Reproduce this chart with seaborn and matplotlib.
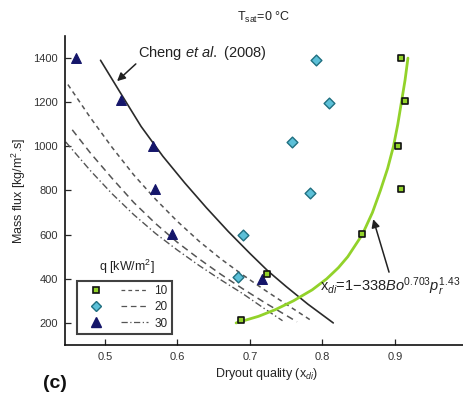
import matplotlib
matplotlib.use("Agg")
import matplotlib.pyplot as plt
import numpy as np
import pandas as pd
import seaborn as sns
from matplotlib.lines import Line2D
from matplotlib.legend_handler import HandlerTuple

# Measured dryout points, grouped by heat flux q [kW/m2]
q10_x = [0.909, 0.914, 0.904, 0.909, 0.854, 0.724, 0.688]
q10_G = [1400, 1205, 1000, 805, 605, 420, 215]
q20_x = [0.791, 0.809, 0.758, 0.783, 0.690, 0.684]
q20_G = [1390, 1195, 1020, 790, 600, 410]
q30_x = [0.460, 0.522, 0.567, 0.569, 0.592, 0.717]
q30_G = [1400, 1210, 1000, 805, 605, 400]

# Cheng et al. (2008) dryout line
cheng_x = [0.494, 0.52, 0.55, 0.58, 0.61, 0.64, 0.67, 0.70, 0.725, 0.75, 0.78, 0.815]
cheng_G = [1390, 1250, 1090, 955, 835, 722, 615, 515, 435, 365, 285, 200]

# Predicted curves for each heat flux
pred10_x = [0.449, 0.48, 0.51, 0.54, 0.57, 0.60, 0.63, 0.66, 0.69, 0.72, 0.75, 0.785]
pred10_G = [1280, 1130, 995, 870, 760, 660, 570, 490, 418, 350, 285, 210]
pred20_x = [0.455, 0.48, 0.51, 0.54, 0.57, 0.60, 0.63, 0.66, 0.69, 0.72, 0.765]
pred20_G = [1075, 970, 855, 745, 650, 565, 490, 420, 355, 293, 205]
pred30_x = [0.446, 0.48, 0.51, 0.54, 0.57, 0.60, 0.63, 0.66, 0.69, 0.72, 0.745]
pred30_G = [1020, 890, 785, 690, 605, 530, 460, 395, 333, 265, 210]

# New correlation x_di = 1 - 338 Bo^0.703 p_r^1.43
corr_G = [200, 230, 260, 300, 350, 400, 450, 500, 600, 700, 800, 900, 1000,
          1100, 1200, 1300, 1400]
corr_x = [0.681, 0.712, 0.735, 0.760, 0.786, 0.806, 0.822, 0.835, 0.855,
          0.869, 0.880, 0.890, 0.898, 0.904, 0.909, 0.914, 0.918]

x_ticks = [0.5, 0.6, 0.7, 0.8, 0.9]
y_ticks = [200, 400, 600, 800, 1000, 1200, 1400]
legend_labels = ["10", "20", "30"]

sns.set_style("ticks")
plt.rcParams["font.family"] = ["Liberation Sans", "DejaVu Sans"]
plt.rcParams["mathtext.fontset"] = "custom"
plt.rcParams["mathtext.rm"] = "Liberation Sans"
plt.rcParams["mathtext.it"] = "Liberation Sans:italic"
plt.rcParams["mathtext.bf"] = "Liberation Sans:bold"

W, H = 463, 398
fig = plt.figure(figsize=(W / 100, H / 100), dpi=100)
ax = fig.add_axes([65 / W, 1 - 345 / H, (467.4 - 65) / W, (345 - 36) / H])

green = "#92d22a"
cyan = "#5cc0d8"
navy = "#15166a"
grey = "#555555"

dash10 = (0, (3, 2.5))
dash20 = (0, (4.5, 3))
dash30 = (0, (5, 2, 1, 2))

sns.lineplot(x=pred10_x, y=pred10_G, sort=False, estimator=None, ax=ax,
             color=grey, lw=1.1, linestyle=dash10)
sns.lineplot(x=pred20_x, y=pred20_G, sort=False, estimator=None, ax=ax,
             color=grey, lw=1.1, linestyle=dash20)
sns.lineplot(x=pred30_x, y=pred30_G, sort=False, estimator=None, ax=ax,
             color=grey, lw=1.0, linestyle=dash30)
sns.lineplot(x=cheng_x, y=cheng_G, sort=False, estimator=None, ax=ax,
             color="#2a2a2a", lw=1.2)
sns.lineplot(x=corr_x, y=corr_G, sort=False, estimator=None, ax=ax,
             color=green, lw=2.0)

sns.scatterplot(x=q20_x, y=q20_G, ax=ax, marker="D", s=30, color=cyan,
                edgecolor="#1f6f80", linewidth=1.0, zorder=5)
sns.scatterplot(x=q30_x, y=q30_G, ax=ax, marker="^", s=50, color=navy,
                edgecolor=navy, linewidth=0.8, zorder=5)
sns.scatterplot(x=q10_x, y=q10_G, ax=ax, marker="s", s=24, color=green,
                edgecolor="#111111", linewidth=1.2, zorder=6)

ax.set_xlim(0.445, 1.0)
ax.set_ylim(100, 1500)
ax.set_xticks(x_ticks)
ax.set_xticklabels([f"{v:g}" for v in x_ticks])
ax.set_yticks(y_ticks)
ax.set_yticklabels([str(v) for v in y_ticks])
sns.despine(ax=ax)
for s in ("left", "bottom"):
    ax.spines[s].set_linewidth(1.2)
    ax.spines[s].set_color("#111111")
ax.tick_params(direction="in", length=4, width=0.9, labelsize=8,
               labelcolor="#333333", pad=5)

ax.set_xlabel(r"Dryout quality (x$_{di}$)", fontsize=9, labelpad=3)
ax.set_ylabel(r"Mass flux [kg/m$^2$.s]", fontsize=9, labelpad=4)

# Annotations
ax.text(0.5455, 1425, r"Cheng $\mathit{et\ al.}$ (2008)", fontsize=10.5,
        ha="left", va="center", color="#222222")
ax.annotate("", xy=(0.514, 1287), xytext=(0.5455, 1382),
            arrowprops=dict(arrowstyle="-|>", color="#222222", lw=1.1,
                            mutation_scale=12))
ax.text(0.797, 364, r"x$_{di}$=1$-$338$Bo^{0.703}p_r^{1.43}$", fontsize=10.5,
        ha="left", va="center", color="#222222")
ax.annotate("", xy=(0.869, 682), xytext=(0.893, 418),
            arrowprops=dict(arrowstyle="-|>", color="#222222", lw=1.1,
                            mutation_scale=12))

fig.text(237 / W, 1 - 17 / H, r"T$_{\rm sat}$=0 °C", fontsize=9,
         ha="left", va="center", color="#222222")
fig.text(43 / W, 1 - 383 / H, "(c)", fontsize=14, fontweight="bold",
         ha="left", va="center", color="#111111")

# Legend: marker and line sample for each heat flux
handles = [
    (Line2D([], [], marker="s", ls="none", mfc=green, mec="#111111", ms=5, mew=1.2),
     Line2D([], [], color=grey, lw=0.9, ls=dash10)),
    (Line2D([], [], marker="D", ls="none", mfc=cyan, mec="#1f6f80", ms=5, mew=1.0),
     Line2D([], [], color=grey, lw=0.9, ls=dash20)),
    (Line2D([], [], marker="^", ls="none", mfc=navy, mec=navy, ms=7),
     Line2D([], [], color=grey, lw=0.9, ls=dash30)),
]
leg = ax.legend(handles=handles, labels=legend_labels,
                handler_map={tuple: HandlerTuple(ndivide=None, pad=1.0)},
                handlelength=5.6, handletextpad=0.5, fontsize=8.5,
                loc="lower left", bbox_to_anchor=((77.3 - 65) / 402.4, (345 - 334.3) / 309),
                borderaxespad=0, fancybox=False, frameon=True,
                labelspacing=0.35, borderpad=0.4)
leg.get_frame().set_edgecolor("#111111")
leg.get_frame().set_linewidth(1.5)
fig.text(126.7 / W, 1 - 266.7 / H, r"q [kW/m$^2$]", fontsize=9,
         ha="center", va="center", color="#222222")

fig.savefig("out.png", dpi=100)
